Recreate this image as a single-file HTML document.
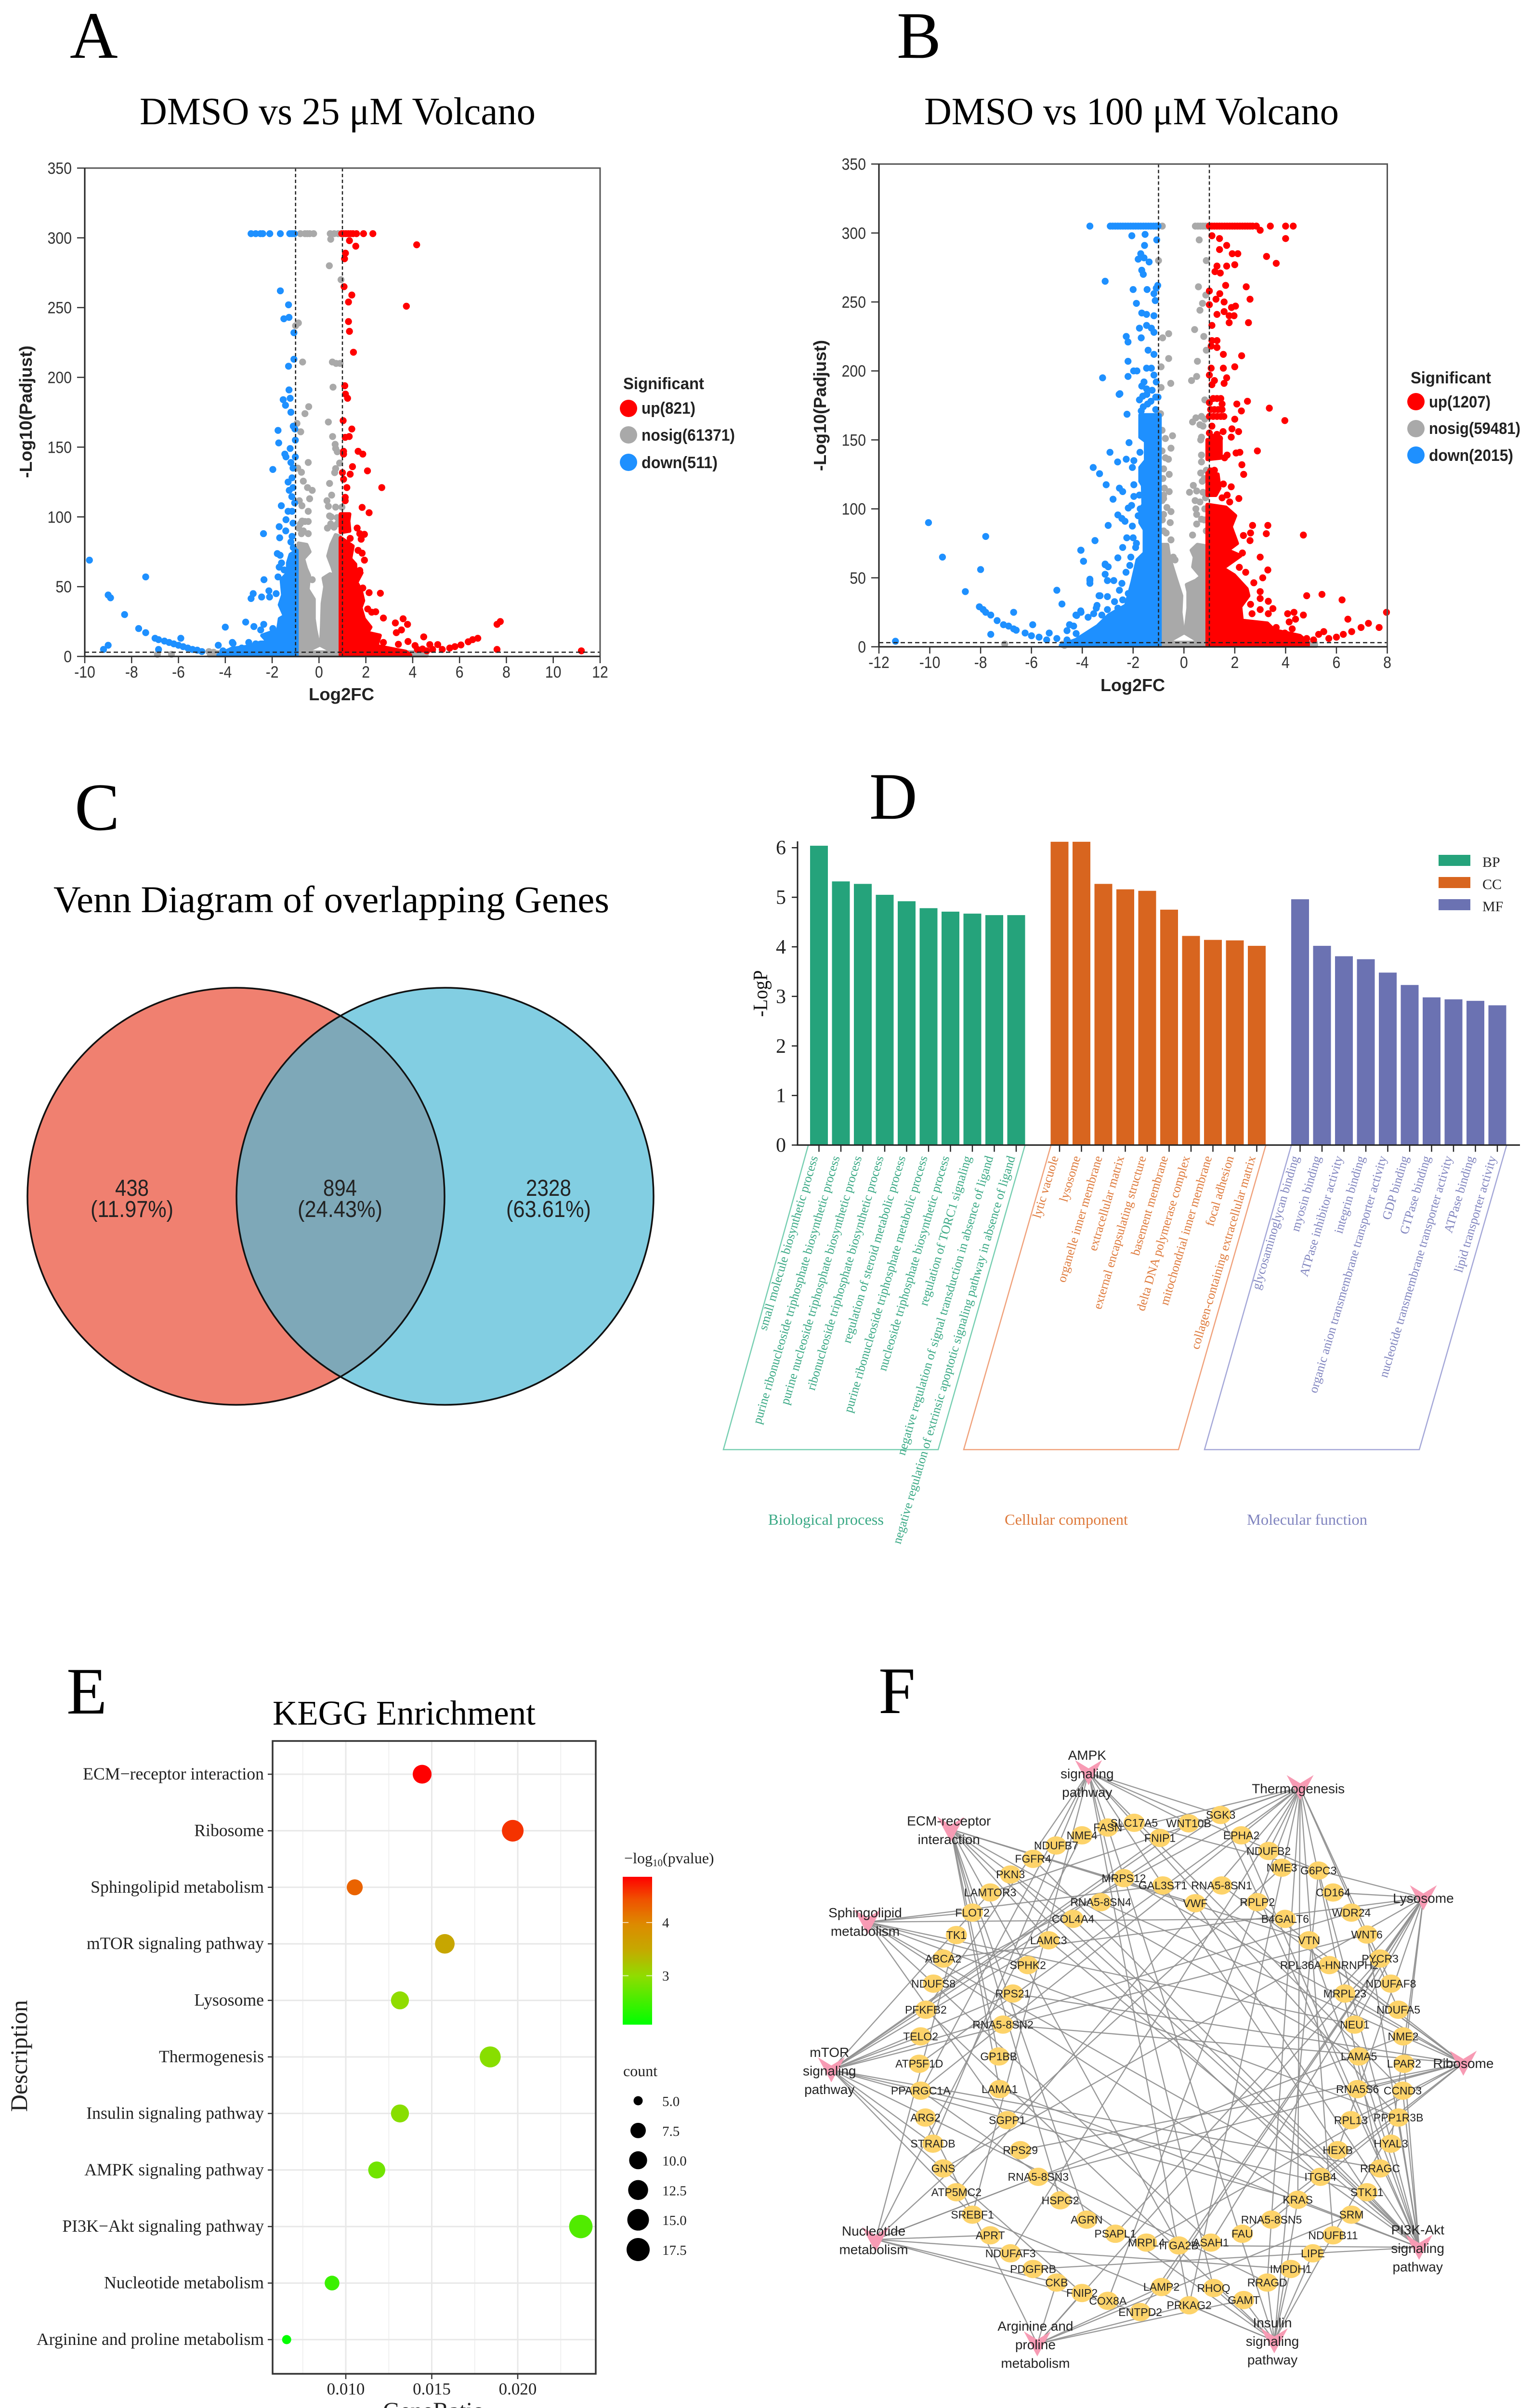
<!DOCTYPE html>
<html lang="en">
<head>
<meta charset="utf-8">
<title>Transcriptomic analysis figure</title>
<style>
html,body{margin:0;padding:0;background:#fff;width:3181px;height:5051px;overflow:hidden}
svg{display:block;position:absolute;left:0;top:0}
.serif{font-family:"Liberation Serif",serif}
.sans{font-family:"Liberation Sans",sans-serif}
</style>
</head>
<body>
<svg id="fig" xmlns="http://www.w3.org/2000/svg" width="3181" height="5051" viewBox="0 0 3181 5051">
<rect width="3181" height="5051" fill="#fff"/>
<g class="serif" fill="#000">
<text x="145" y="120" font-size="138">A</text>
<text x="1862" y="120" font-size="138">B</text>
<text x="155" y="1723" font-size="140">C</text>
<text x="1805" y="1700" font-size="138">D</text>
<text x="138" y="3558" font-size="138">E</text>
<text x="1824" y="3557" font-size="138">F</text>
<text x="290" y="258" font-size="80" textLength="822" lengthAdjust="spacingAndGlyphs">DMSO vs 25 μM Volcano</text>
<text x="1919" y="258" font-size="80" textLength="861" lengthAdjust="spacingAndGlyphs">DMSO vs 100 μM Volcano</text>
<text x="111" y="1894" font-size="78" textLength="1154" lengthAdjust="spacingAndGlyphs">Venn Diagram of overlapping Genes</text>
<text x="566" y="3581" font-size="72" textLength="546" lengthAdjust="spacingAndGlyphs">KEGG Enrichment</text>
</g>

<!-- Volcano A legend and axis titles -->
<g class="sans" fill="#222" font-size="34" font-weight="bold">
<text transform="translate(66,855) rotate(-90)" text-anchor="middle" font-size="36" textLength="275" lengthAdjust="spacingAndGlyphs">-Log10(Padjust)</text>
<text x="641" y="1454" font-size="36" textLength="136" lengthAdjust="spacingAndGlyphs">Log2FC</text>
<text x="1294" y="808" textLength="168" lengthAdjust="spacingAndGlyphs">Significant</text>
<circle cx="1305" cy="848" r="18" fill="#ff0000"/>
<text x="1332" y="859" textLength="112" lengthAdjust="spacingAndGlyphs">up(821)</text>
<circle cx="1305" cy="903" r="18" fill="#a9a9a9"/>
<text x="1332" y="915" textLength="194" lengthAdjust="spacingAndGlyphs">nosig(61371)</text>
<circle cx="1305" cy="960" r="18" fill="#1e90ff"/>
<text x="1332" y="972" textLength="158" lengthAdjust="spacingAndGlyphs">down(511)</text>
</g>
<!-- Volcano B legend and axis titles -->
<g class="sans" fill="#222" font-size="34" font-weight="bold">
<text transform="translate(1715,842) rotate(-90)" text-anchor="middle" font-size="36" textLength="272" lengthAdjust="spacingAndGlyphs">-Log10(Padjust)</text>
<text x="2285" y="1435" font-size="36" textLength="134" lengthAdjust="spacingAndGlyphs">Log2FC</text>
<text x="2929" y="796" textLength="167" lengthAdjust="spacingAndGlyphs">Significant</text>
<circle cx="2940" cy="834" r="18" fill="#ff0000"/>
<text x="2967" y="846" textLength="128" lengthAdjust="spacingAndGlyphs">up(1207)</text>
<circle cx="2940" cy="890" r="18" fill="#a9a9a9"/>
<text x="2967" y="901" textLength="190" lengthAdjust="spacingAndGlyphs">nosig(59481)</text>
<circle cx="2940" cy="945" r="18" fill="#1e90ff"/>
<text x="2967" y="957" textLength="175" lengthAdjust="spacingAndGlyphs">down(2015)</text>
</g>

<!-- Venn -->
<defs><clipPath id="vennClip"><circle cx="490" cy="2484" r="433"/></clipPath></defs>
<g>
<circle cx="490" cy="2484" r="433" fill="#f08070"/>
<circle cx="924" cy="2484" r="433" fill="#82cee2"/>
<circle cx="924" cy="2484" r="433" fill="#7ea8b8" clip-path="url(#vennClip)"/>
<circle cx="490" cy="2484" r="433" fill="none" stroke="#111" stroke-width="3.5"/>
<circle cx="924" cy="2484" r="433" fill="none" stroke="#111" stroke-width="3.5"/>
<g class="sans" fill="#222" font-size="48" text-anchor="middle">
<text x="274" y="2483" textLength="70" lengthAdjust="spacingAndGlyphs">438</text>
<text x="274" y="2527" textLength="172" lengthAdjust="spacingAndGlyphs">(11.97%)</text>
<text x="706" y="2483" textLength="70" lengthAdjust="spacingAndGlyphs">894</text>
<text x="706" y="2527" textLength="176" lengthAdjust="spacingAndGlyphs">(24.43%)</text>
<text x="1139" y="2483" textLength="94" lengthAdjust="spacingAndGlyphs">2328</text>
<text x="1139" y="2527" textLength="176" lengthAdjust="spacingAndGlyphs">(63.61%)</text>
</g>
</g>

<!-- Bar chart static parts -->
<g class="serif">
<text transform="translate(1593,2063) rotate(-90)" text-anchor="middle" font-size="42" fill="#111" textLength="97" lengthAdjust="spacingAndGlyphs">-LogP</text>
<rect x="2987" y="1775" width="66" height="23" fill="#25a37b"/>
<rect x="2987" y="1821" width="66" height="23" fill="#d8651f"/>
<rect x="2987" y="1867" width="66" height="23" fill="#6b72b2"/>
<text x="3078" y="1800" font-size="30" fill="#222">BP</text>
<text x="3078" y="1846" font-size="30" fill="#222">CC</text>
<text x="3078" y="1892" font-size="30" fill="#222">MF</text>
<polyline points="1678,2379 1502,3010 1948,3010 2128,2379" fill="none" stroke="#78cfb2" stroke-width="2.5"/>
<polyline points="2182,2379 2001,3010 2447,3010 2628,2379" fill="none" stroke="#f0a27c" stroke-width="2.5"/>
<polyline points="2681,2379 2501,3010 2947,3010 3128,2379" fill="none" stroke="#a5a8d8" stroke-width="2.5"/>
<text x="1595" y="3166" font-size="32" fill="#3aa985" textLength="240" lengthAdjust="spacingAndGlyphs">Biological process</text>
<text x="2086" y="3166" font-size="32" fill="#de7a3c" textLength="256" lengthAdjust="spacingAndGlyphs">Cellular component</text>
<text x="2589" y="3166" font-size="32" fill="#8185bf" textLength="250" lengthAdjust="spacingAndGlyphs">Molecular function</text>
</g>

<!-- KEGG static parts -->
<g class="serif" fill="#222">
<text transform="translate(56,4269) rotate(-90)" text-anchor="middle" font-size="50" textLength="232" lengthAdjust="spacingAndGlyphs">Description</text>
<text x="795" y="5022" font-size="50" textLength="211" lengthAdjust="spacingAndGlyphs">GeneRatio</text>
<text x="1296" y="3869" font-size="32">−log<tspan font-size="21" dy="6">10</tspan><tspan dy="-6">(pvalue)</tspan></text>
<text x="1294" y="4311" font-size="32">count</text>
<defs>
<linearGradient id="pvalGrad" x1="0" y1="1" x2="0" y2="0">
<stop offset="0" stop-color="#00ff00"/><stop offset="0.33" stop-color="#90dc00"/><stop offset="0.5" stop-color="#c4aa00"/><stop offset="0.68" stop-color="#dd8a00"/><stop offset="0.85" stop-color="#f05000"/><stop offset="1" stop-color="#ff0000"/>
</linearGradient>
</defs>
<rect x="1293" y="3897" width="61" height="307" fill="url(#pvalGrad)"/>
</g>

<g id="volcanoA"></g>
<g id="volcanoB"></g>
<g id="goChart" class="serif"></g>
<g id="keggChart" class="serif"></g>
<g id="network" class="sans"></g>
</svg>

<script>
/* ---------- Volcano data: [log2FC, -log10(padj)] ---------- */
const volcanoTicksXA=[-10,-8,-6,-4,-2,0,2,4,6,8,10,12];
const volcanoTicksXB=[-12,-10,-8,-6,-4,-2,0,2,4,6,8];
const volcanoTicksY=[0,50,100,150,200,250,300,350];
const thresholdsFC=[-1,1];
const thresholdP=3;

const grayCloudA=[
[[-4.7,3],[4.6,3],[4.6,.6],[-4.7,.6]],
[[-.87,81],[-.53,80],[-.4,75],[-.67,70],[-.55,63],[-.42,58],[-.48,48],[-.22,41],[-.22,27],[-.15,19],[-.01,8],[-.87,1]],
[[.08,8],[.12,21],[.15,38],[.26,50],[.19,56],[.47,59],[.68,58],[.57,64],[.39,72],[.52,80],[.71,87],[.88,86],[.88,1]]
];
const downCloudA=[[
[-.95,76],[-1.22,73],[-1.33,67],[-1.33,60],[-1.6,55],[-1.54,44],[-1.68,37],[-1.47,29],[-1.68,27],[-1.75,19],[-2.43,15],[-2.16,10],[-2.5,10],[-3.05,7],[-3.74,5.5],[-4.3,1],[-.95,1]
]];
const upCloudA=[
[[.92,102],[1.3,102],[1.26,97],[1.3,90],[.92,89]],
[[.92,85],[1.44,79],[1.34,70],[1.55,66],[1.56,60],[1.82,60],[1.6,53],[1.78,48],[1.89,40],[1.78,35],[1.92,27],[2.2,21],[2.06,17],[2.6,15],[2.46,7.5],[3.7,3.5],[3.9,1],[.92,1]]
];
const grayA=[[-.8,303],[-.6,303],[-.5,303],[-.4,303],[-.23,303],[.48,303],[.65,303],[.82,303],[.5,299],[.44,280],[.94,270],[-.88,239],[-1,237],[-.7,211],[.57,211],[.73,210],[.9,210],[.6,193],[-.44,179],[-.6,174],[-.94,167],[.4,168],[-.78,161],[.58,157.6],[.69,152],[.71,149],[.78,146.7],[-.46,139],[.88,138.6],[-.91,135],[.71,134.6],[-.75,132],[.67,131.7],[-.67,125.6],[.45,124],[-.49,121],[-.29,119],[.54,115.6],[-.4,113],[-.84,111.6],[.34,111.6],[-.73,108],[.4,107.6],[.71,107],[.98,107],[-.46,104],[.45,100.7],[.78,99.5],[.52,100],[-.8,95],[-.6,96.7],[-.46,96.7],[-.72,97],[-.87,92],[.36,92],[.64,92.6],[.78,95],[.5,95],[-.67,90],[-.46,88],[-.75,88],[-.29,55],[-6.9,1.5],[-6.3,1.5],[-4.5,3],[-4.7,3.5]];
const downA=[[-9.8,69],[-9,44],[-8.9,42],[-8.3,30],[-7.7,20],[-7.4,17],[-7.4,57],[-7,13],[-6.85,12],[-6.85,5],[-9.2,5],[-9,8],[-6.6,11],[-6.4,10],[-6.2,9],[-6,8],[-5.9,13],[-5.8,7],[-5.6,6],[-5.4,5],[-5.2,4.5],[-5,3.5],[-4,21],[-4.3,8],[-3.7,10],
[-2.9,303],[-2.7,303],[-2.5,303],[-2.4,303],[-2.1,303],[-1.65,303],[-1.25,303],[-1.15,303],[-1.05,303],[-1.75,162],[-1.65,262],[-1.3,252],[-1.5,242],[-1.28,243],[-1.07,232],[-1.07,213],[-1.3,208],[-1.28,191],[-1.53,184],[-1.23,185],[-1.43,180],[-1.2,175],[-1.1,165],[-1.03,163],
[-1.72,153],[-1.01,155],[-1.23,149],[-1.46,145],[-1.41,143],[-1.01,143],[-1.97,134],[-1.2,139],[-1.11,135],[-1.15,128],[-1.32,125],[-1.11,121],[-1.27,119],[-1.16,114.5],[-1.61,108],[-1.04,110],[-1.32,104],[-1.15,104],[-1.41,98],[-1.7,93],[-1.42,90],[-1.11,95.5],[-2.37,88],[-1.68,85],[-1.15,86],[-1.78,73.7],[-1.66,72.5],[-1.6,67],[-1.7,64],[-1.49,62],[-1.75,57],[-2.35,55],[-2.14,47],[-2.45,42.6],[-2.11,42.6],[-1.83,45],[-2.81,45],[-2.9,41.5],[-3.13,24.6],[-2.78,21.4],[-2.36,23],[-2.49,19],[-1.97,20],[-3,10],[-3.67,9.3],[-1.2,82],[-1.1,78],[-3.3,6],[-2.7,9],[-4.1,4]];
const upA=[[.97,303],[1.05,303],[1.15,303],[1.25,303],[1.35,303],[1.45,303],[1.6,303],[1.9,303],[2.3,303],[1.3,298],[1.57,294],[4.17,295],[1.13,289],[1.09,285],[1.07,265],[1.4,259],[1.26,254],[3.73,251],[1.26,240],[1.3,233],[1.47,218],[1.1,194],[1.13,188],[1.22,185],[1.03,169],[1.4,163],
[1.12,157],[1.29,157.6],[1.05,147],[1.67,147],[1.87,145],[1.05,145],[1.43,136],[2.07,133],[1.33,130.6],[1,131.7],[1.05,127],[2.68,121],[1.19,121],[1.12,114],[1.12,111.6],[1.84,106.8],[2.14,103],[1.63,92],[1.94,87.5],[1.74,88],[1.8,84],[1.33,84.6],[1.67,76],[1.84,74],[1.94,69],[1.74,61.6],[1.87,49],[2.14,45.7],[2.62,45.3],[2.08,34],[2.42,32],[2.25,31.7],[2.75,27.5],[3.26,24],[3.59,27],[3.78,23],[3.52,19],[3.3,17],[4.47,14],[3.8,10.7],[2.75,10],[3.39,8.7],[4.1,7.8],[4.73,8.5],[5.07,8.5],[6.06,8.2],[6.37,10.5],[4.42,5.3],[4.85,5],[5.26,5],[5.58,6],[5.8,7],[6.56,12],[6.78,13],[7.6,23],[7.74,25],[7.6,5],[11.2,4],[4.6,4],[4.2,5]];

const grayCloudB=[
[[-4.8,3],[5.2,3],[5.2,.6],[-4.8,.6]],
[[-.9,74],[-.65,74],[-.58,65],[-.31,49],[-.1,37],[-.13,25],[-.03,10],[-.9,1]],
[[.05,10],[.17,28],[.17,40],[.11,45],[.47,48],[.68,51],[.36,58],[.42,65],[.3,70],[.53,74],[.86,73],[.86,1]]
];
const downCloudB=[[
[-.95,168],[-1.72,168],[-1.72,152],[-1.5,149],[-1.5,135],[-1.72,130],[-1.72,120],[-1.62,117],[-1.6,103],[-1.72,100],[-1.72,90],[-1.55,85],[-1.55,68],[-1.83,63],[-2.03,47],[-2.28,30],[-2.95,23],[-3.4,15],[-4.25,5],[-4.85,1],[-.95,1]
]];
const upCloudB=[
[[.92,150],[1.45,150],[1.45,137],[.92,136]],
[[.92,126],[1.33,125],[1.4,115],[1.25,110],[.92,110]],
[[.92,103],[1.65,101],[2.02,95],[1.85,87],[2.09,75],[1.72,70],[2.22,66],[1.53,57],[1.97,52],[2.47,42],[2.54,37],[2.22,29],[2.28,19],[3.28,17],[3.55,12],[4.56,8],[4.88,3],[4.88,1],[.92,1]]
];
const grayB=[[-1,305],[-.85,305],[.45,305],[.55,305],[.65,305],[.75,305],[.85,305],[.95,305],[.6,295],[-1,280],[.88,280],[.57,261],[.86,255],[.73,249],[.63,244],[.42,230],[-.6,227],[-.84,224],[.78,225],[.88,215],[-.6,209],[.53,207],[-.9,203],[-.52,191],[-.9,188],[.5,196],[.3,193],[.82,179],
[-.8,129],[-.58,125],[-.83,122],[-.77,115],[-.58,112.5],[-.8,107.5],[-.86,106],[-.67,101],[-.51,98],[-.54,90],[-.8,84],[-.7,82.5],[-.51,77.5],[-.73,151],[-.45,153],[-.51,144],[-.73,137],[-.61,136],[-.86,142],[-.86,157],[-.92,169],[-.42,65],[-.35,63],[-.8,96],[-.85,92],[-.8,110],
[.69,167],[.47,166],[.34,163],[.63,161],[.69,152],[.66,150],[.69,139],[.69,134],[.66,126],[.88,128],[.72,120],[.37,117],[.5,113],[.22,112],[.85,108],[.44,106],[.63,105],[.47,100],[.82,100],[.5,96],[.69,92.5],[.5,89],[.34,81],[.88,84],[.82,165],[.75,160],[.8,122],[.75,112],[.8,92],
[-7.05,2],[-4.7,1],[-4.5,3]];
const downB=[[-11.35,4],[-10.05,90],[-9.5,65],[-7.8,80],[-8,56],[-8.6,40],[-8.05,29],[-7.9,27],[-7.8,25],[-7.6,23],[-7.6,9],[-7.35,19],[-7.1,16],[-6.9,15],[-6.7,13],[-6.6,12],[-6.7,25],[-6.25,10],[-6,8],[-5.95,16],[-5.7,7],[-5.4,5],[-5.3,10],[-5,6],[-5,41],[-4.8,31],[-4.6,5],[-4.5,16],[-4.25,23],[-4.05,25],[-4.05,70],[-3.95,62],[-3.7,49],[-3.7,46],[-3.5,77],[-3.45,28],[-3.3,37],[-3.1,60],
[-3.1,265],[-3.2,195],[-2.55,183],[-2.2,196],[-2.2,207],[-2.27,225],[-2.2,221],[-2,259],[-1.87,249],[-1.68,224],[-1.75,231],[-2.05,298],[-1.53,299],[-1.07,295],[-1.55,291],[-1.7,285],[-1.8,281],[-1.57,282],[-1.37,279],[-1.66,273],[-1.6,270],[-1.45,259],[-1.09,260],[-1.03,262],[-1.18,256],[-1.13,251],[-1.66,242],[-1.47,241],[-1.18,240],[-1.47,233],[-1.28,231],[-1.18,228],[-1.41,215],[-1.18,212],[-1.85,200],[-1.98,200],[-1.47,202],[-1.28,202],[-1.18,197],[-1.57,192],[-1.66,189],[-1.09,192],[-1.47,187],
[-2.52,183.5],[-2.24,168.6],[-2.16,148],[-2.91,141],[-2.61,134],[-2.27,136],[-1.73,141],[-1.97,135],[-2.03,130],[-3.57,130],[-3.32,125.5],[-3.06,117.5],[-2.54,115],[-2.41,112.5],[-1.97,117.5],[-1.97,109],[-2.79,107],[-2.19,100.6],[-2.06,102.5],[-1.72,100],[-2.6,95.6],[-2.44,93],[-2.32,91],[-2.98,88],[-2.03,87.5],[-3.5,77],[-2.25,79],[-2,79],[-2.41,72],[-4.06,70],[-3.95,62],[-2.6,64.5],[-1.87,75],[-2.09,65],[-3.1,59.5],[-2.98,58],[-3.1,52.6],[-3.7,48],[-3.01,48],[-2.76,48],[-2.44,46],[-2.28,54],[-2.54,41],[-2.13,59],[-2.19,38.6],[-3.34,37],[-3.01,36.4],[-2.41,34],[-2.73,32.7],[-3.42,30],[-2.6,28],[-3.01,27],[-4.06,26],[-4.22,22.7],[-3.77,21.4],[-3.55,24],[-3.23,23],[-2.89,21.4],[-2.28,26],[-4.5,16],[-4.34,15],[-4.6,11.7],[-4.24,9.6],
[-1.25,186],[-1.46,183],[-1.62,181.7],[-1.75,179],[-1.02,181],[-1.11,181],[-1.43,176],[-1.68,171],[-1.11,172],[-1.3,178],[-1.6,174],[-1.75,110],[-1.8,95],[-1.9,72],
[-3.7,305],[-2.9,305],[-2.8,305],[-2.7,305],[-2.6,305],[-2.5,305],[-2.4,305],[-2.3,305],[-2.2,305],[-2.1,305],[-2,305],[-1.9,305],[-1.8,305],[-1.7,305],[-1.6,305],[-1.5,305],[-1.4,305],[-1.3,305],[-1.2,305],[-1.1,305],[-1.02,305]];
const upB=[[1,305],[1.1,305],[1.2,305],[1.3,305],[1.4,305],[1.5,305],[1.6,305],[1.7,305],[1.8,305],[1.9,305],[2,305],[2.1,305],[2.2,305],[2.3,305],[2.4,305],[2.5,305],[2.6,305],[2.7,305],[2.85,305],[3,302],[3.4,305],[4,305],[4.3,305],[1.1,298],[1.4,296],[1.68,291],[1.4,288],[1.9,285],[2.12,285],[1.3,276],[1.68,276],[2,277],[1.22,272],[1.43,271],[3.25,283],[3.63,278],[4,296],[2.45,261],[1.64,262],[1.41,256],[1,258],[1.26,252],[2.6,252],[1.58,250],[2.03,247],[1.87,246],[1,248],[1.58,243],[1.78,240],[1.97,240],[1.3,241],[2.54,235],[1.78,235],[1.1,233],[1.1,222],[1.3,222],[1.07,218],[1.3,217],[1.55,212],[2.27,211],[2,203],[1.07,202],[1.55,202],[1.68,195],[1,197],[1.2,193],[1.58,191],[1.1,190],
[1,177],[1.15,180],[1.3,180],[1.45,180],[1.5,176],[1.05,172],[1.2,172],[1.35,172],[1.5,172],[1,167],[1.15,167],[1.3,167],[1.45,167],[1.57,167],[2.08,176],[2.26,171],[2.5,178],[3.36,173],[3.97,164],[2,165],[1.89,158],[2.15,156],[1.86,152],[1.54,156],[1.3,154],[1.1,160],[1,155],[1.6,137],[1.7,139],[2.05,140.5],[2.2,141],[2.89,142],[2.28,132],[2.35,125],[2.16,107.5],[1.8,105],[2.7,88],[3.3,88],[2.62,82.5],[2.34,80.7],[3.24,82],[2.6,77],[3,65],[3.3,55.7],[3.1,50],[2.75,46.4],[3,40],[3.32,33],[2.62,30.8],[3,27],[3.5,27.7],[3.32,24],[2.68,24],[4.08,24],[4.33,25],[4.14,18],[4.39,20],[3.63,14],[3,35],[2.43,54],[2.18,57.6],[2.3,68],[1.86,116],[1.7,110],[1.5,108],[1.2,118],[1.55,118],[1.1,152],[1.25,152],[1.4,151],[1.05,127.5],[1.2,128],
[4.7,81],[4.83,37],[5.43,38],[6.22,34],[6.45,20],[4.7,23],[4.26,13],[3.97,10],[7.97,25],[7.26,17],[6.97,14],[7.68,14],[6.6,11],[6.27,9],[6,7],[5.7,6],[5.5,11],[5.3,9],[5.1,5],[4.83,6],[4.64,4]];

/* ---------- GO bar data ---------- */
const goGroups=['BP','CC','MF'];
const goColors=['#25a37b','#d8651f','#6b72b2'];
const goTextColors=['#3aa985','#de7a3c','#8185bf'];
const goTicks=[0,1,2,3,4,5,6];
const bpValues=[6.04,5.32,5.27,5.05,4.92,4.78,4.71,4.67,4.64,4.64];
const ccValues=[6.12,6.12,5.27,5.16,5.13,4.75,4.22,4.14,4.13,4.02];
const mfValues=[4.96,4.02,3.81,3.75,3.48,3.23,2.98,2.94,2.91,2.82];
const bpTerms=['small molecule biosynthetic process','purine ribonucleoside triphosphate biosynthetic process','purine nucleoside triphosphate biosynthetic process','ribonucleoside triphosphate biosynthetic process','regulation of steroid metabolic process','purine ribonucleoside triphosphate metabolic process','nucleoside triphosphate biosynthetic process','regulation of TORC1 signaling','negative regulation of signal transduction in absence of ligand','negative regulation of extrinsic apoptotic signaling pathway in absence of ligand'];
const ccTerms=['lytic vacuole','lysosome','organelle inner membrane','extracellular matrix','external encapsulating structure','basement membrane','delta DNA polymerase complex','mitochondrial inner membrane','focal adhesion','collagen-containing extracellular matrix'];
const mfTerms=['glycosaminoglycan binding','myosin binding','ATPase inhibitor activity','integrin binding','organic anion transmembrane transporter activity','GDP binding','GTPase binding','nucleotide transmembrane transporter activity','ATPase binding','lipid transporter activity'];

/* ---------- KEGG dot plot data ---------- */
const keggTerms=['ECM−receptor interaction','Ribosome','Sphingolipid metabolism','mTOR signaling pathway','Lysosome','Thermogenesis','Insulin signaling pathway','AMPK signaling pathway','PI3K−Akt signaling pathway','Nucleotide metabolism','Arginine and proline metabolism'];
const keggRatio=[.01444,.01971,.01052,.01576,.01315,.0184,.01315,.0118,.02367,.0092,.00656];
const keggCount=[11,15,8,12,10,14,10,9,18,7,5];
const keggLogP=[4.86,4.6,4.3,3.55,3.0,2.95,2.95,2.8,2.6,2.45,2.1];
const keggTicks=[.01,.015,.02];
const keggMinorTicks=[.0075,.0125,.0175,.0225];
const keggColorTicks=[3,4];
const keggSizeLegend=[5,7.5,10,12.5,15,17.5];

/* ---------- Network (layout units) ---------- */
const pathways=[
['AMPK',625,518,['AMPK','signaling','pathway'],622,450],
['Thermogenesis',1075,575,['Thermogenesis'],1071,578],
['ECM',332,735,['ECM-receptor','interaction'],328,702],
['Lysosome',1337,997,['Lysosome'],1337,998],
['Sphingolipid',155,1090,['Sphingolipid','metabolism'],150,1053],
['mTOR',78,1656,['mTOR','signaling','pathway'],74,1588],
['Ribosome',1422,1631,['Ribosome'],1422,1631],
['Nucleotide',172,2306,['Nucleotide','metabolism'],168,2273],
['PI3K',1328,2336,['PI3K-Akt','signaling','pathway'],1325,2268],
['Arginine',516,2706,['Arginine and','proline','metabolism'],512,2637],
['Insulin',1020,2694,['Insulin','signaling','pathway'],1016,2624]
];
const genes=[['SGK3',906,680],['WNT10B',838,712],['SLC17A5',722,710],['FASN',666,728],['NME4',611,758],['FNIP1',777,768],['EPHA2',950,758],['NDUFB7',556,797],['NDUFB2',1008,818],['FGFR4',507,848],['NME3',1036,882],['G6PC3',1114,893],['PKN3',459,908],['MRPS12',700,922],['GAL3ST1',783,950],['RNA5-8SN1',908,950],['CD164',1145,977],['LAMTOR3',416,977],['RNA5-8SN4',651,1014],['VWF',852,1018],['RPLP2',984,1014],['FLOT2',378,1054],['WDR24',1184,1054],['COL4A4',592,1078],['B4GALT6',1043,1078],['TK1',344,1140],['WNT6',1217,1138],['LAMC3',540,1160],['VTN',1094,1160],['ABCA2',316,1230],['PYCR3',1245,1230],['SPHK2',496,1255],['RPL36A-HNRNPH2',1137,1255],['NDUFS8',295,1326],['NDUFAF8',1268,1326],['RPS21',464,1364],['MRPL23',1170,1364],['PFKFB2',279,1426],['NDUFA5',1284,1426],['RNA5-8SN2',443,1483],['NEU1',1191,1483],['TELO2',268,1528],['NME2',1294,1528],['LAMA5',1200,1605],['ATP5F1D',265,1633],['LPAR2',1296,1633],['GP1BB',434,1605],['PPARGC1A',268,1736],['LAMA1',436,1730],['RNA5S6',1197,1730],['CCND3',1293,1736],['ARG2',278,1839],['SGPP1',452,1849],['RPL13',1183,1849],['PPP1R3B',1284,1839],['STRADB',294,1939],['HYAL3',1268,1939],['RPS29',480,1964],['HEXB',1155,1964],['GNS',316,2034],['RRAGC',1245,2034],['RNA5-8SN3',518,2066],['ITGB4',1118,2066],['ATP5MC2',344,2125],['STK11',1217,2125],['HSPG2',565,2156],['KRAS',1070,2154],['SREBF1',378,2211],['SRM',1184,2211],['AGRN',621,2230],['RNA5-8SN5',1014,2230],['APRT',416,2290],['PSAPL1',682,2284],['FAU',952,2284],['NDUFB11',1145,2290],['MRPL4',748,2318],['ITGA2B',817,2329],['ASAH1',885,2318],['NDUFAF3',459,2359],['LIPE',1102,2359],['PDGFRB',507,2419],['IMPDH1',1055,2419],['CKB',557,2471],['RRAGD',1005,2471],['FNIP2',611,2511],['LAMP2',780,2488],['RHOQ',891,2492],['COX8A',666,2541],['GAMT',955,2538],['ENTPD2',735,2584],['PRKAG2',839,2558]];
const edgeAMPK=['FASN','PPARGC1A','PPP1R3B','SREBF1','STRADB','STK11','PRKAG2','G6PC3','CCND3','PFKFB2','RHOQ','WNT10B','SGK3'];
const edgeThermogenesis=['NDUFB7','NDUFB2','NDUFS8','NDUFAF8','NDUFA5','NDUFAF3','NDUFB11','ATP5F1D','ATP5MC2','COX8A','PPARGC1A','KRAS','PRKAG2','LAMTOR3','RRAGC','RRAGD','SGK3'];
const edgeECM=['COL4A4','LAMC3','LAMA1','LAMA5','VWF','ITGB4','ITGA2B','VTN','AGRN','HSPG2','GP1BB','FLOT2'];
const edgeLysosome=['LAMP2','HEXB','NEU1','PSAPL1','ENTPD2','ABCA2','GNS','CD164','ASAH1','HYAL3','SLC17A5','WDR24','PYCR3','LPAR2'];
const edgeSphingolipid=['SPHK2','SGPP1','NEU1','GAL3ST1','ASAH1','B4GALT6','KRAS','FLOT2','ITGB4','PPP1R3B'];
const edgeMTOR=['WNT10B','WNT6','FNIP1','FNIP2','RRAGC','RRAGD','LAMTOR3','SGK3','STK11','STRADB','KRAS','TELO2','WDR24','RPS21','LAMC3','SREBF1'];
const edgeRibosome=['RPLP2','RPL13','RPS21','RPS29','RPL36A-HNRNPH2','RNA5S6','RNA5-8SN1','RNA5-8SN2','RNA5-8SN3','RNA5-8SN4','RNA5-8SN5','FAU','MRPL4','MRPS12','MRPL23'];
const edgeNucleotide=['NME2','NME3','NME4','APRT','IMPDH1','ENTPD2','TK1','CKB','RNA5-8SN3'];
const edgePI3K=['COL4A4','LAMC3','LAMA1','LAMA5','VWF','ITGB4','ITGA2B','VTN','KRAS','FGFR4','EPHA2','PKN3','CCND3','G6PC3','STK11','LPAR2','SGK3','PDGFRB','PPP1R3B','WNT6'];
const edgeArginine=['ARG2','CKB','GAMT','PYCR3','SRM','PRKAG2','FNIP2','LAMP2'];
const edgeInsulin=['PPARGC1A','FASN','G6PC3','LIPE','PPP1R3B','PRKAG2','KRAS','SREBF1','RHOQ','PFKFB2','RRAGD','GAMT','IMPDH1'];

const NS='http://www.w3.org/2000/svg';
function el(tag,attrs,parent){
  const e=document.createElementNS(NS,tag);
  for(const k in attrs)e.setAttribute(k,attrs[k]);
  parent.appendChild(e);
  return e;
}

/* ---------- Volcano renderer ---------- */
function drawVolcano(rootId,prefix,box,ticksX,clouds,pts){
  const root=document.getElementById(rootId);
  const xS=v=>box.x0+(v-box.xMin)*(box.x1-box.x0)/(box.xMax-box.xMin);
  const yS=v=>box.yB-v*(box.yB-box.yT)/350;
  const poly=p=>p.map(q=>xS(q[0]).toFixed(1)+','+yS(q[1]).toFixed(1)).join(' ');
  clouds.gray.forEach(c=>{
    const p=el('polygon',{points:poly(c),fill:'#a9a9a9',stroke:'#a9a9a9','stroke-width':8,'stroke-linejoin':'round'},root);
    
    
  });
  pts.gray.forEach(d=>{
    const c=el('circle',{cx:xS(d[0]).toFixed(1),cy:yS(d[1]).toFixed(1),r:7.2,fill:'#a9a9a9'},root);
    
    
  });
  clouds.down.forEach(c=>{
    const p=el('polygon',{points:poly(c),fill:'#1e90ff',stroke:'#1e90ff','stroke-width':8,'stroke-linejoin':'round'},root);
    
    
  });
  pts.down.forEach(d=>{
    const c=el('circle',{cx:xS(d[0]).toFixed(1),cy:yS(d[1]).toFixed(1),r:7.2,fill:'#1e90ff'},root);
    
    
  });
  clouds.up.forEach(c=>{
    const p=el('polygon',{points:poly(c),fill:'#ff0000',stroke:'#ff0000','stroke-width':8,'stroke-linejoin':'round'},root);
    
    
  });
  pts.up.forEach(d=>{
    const c=el('circle',{cx:xS(d[0]).toFixed(1),cy:yS(d[1]).toFixed(1),r:7.2,fill:'#ff0000'},root);
    
    
  });
  /* threshold lines */
  thresholdsFC.forEach(v=>{
    const l=el('line',{x1:xS(v),x2:xS(v),y1:box.yT,y2:box.yB,stroke:'#222','stroke-width':2.5,'stroke-dasharray':'7 5'},root);
    
    
  });
  const h=el('line',{x1:box.x0,x2:box.x1,y1:yS(thresholdP),y2:yS(thresholdP),stroke:'#222','stroke-width':2.5,'stroke-dasharray':'9 6'},root);
  
  
  /* frame */
  const fr=el('path',{d:`M${box.x0} ${box.yT}H${box.x1}V${box.yB}`,fill:'none',stroke:'#555','stroke-width':3},root);
  
  
  const ax=el('path',{d:`M${box.x0} ${box.yT}V${box.yB}H${box.x1}`,fill:'none',stroke:'#222','stroke-width':3},root);
  
  
  const lenOf=s=>[...String(s)].reduce((a,ch)=>a+(ch==='-'?10:16.8),0);
  ticksX.forEach(v=>{
    const t=el('line',{x1:xS(v),x2:xS(v),y1:box.yB,y2:box.yB+14,stroke:'#333','stroke-width':2.5},root);
    
    
    const tx=el('text',{x:xS(v)-lenOf(v)/2,y:box.yB+44,'font-size':34,fill:'#333','font-family':'"Liberation Sans",sans-serif',textLength:lenOf(v),lengthAdjust:'spacingAndGlyphs'},root);
    tx.textContent=v;
    
    
  });
  volcanoTicksY.forEach(v=>{
    const t=el('line',{x1:box.x0-16,x2:box.x0,y1:yS(v),y2:yS(v),stroke:'#333','stroke-width':2.5},root);
    
    
    const w=lenOf(v);
    const tx=el('text',{x:box.x0-27-w,y:yS(v)+12,'font-size':34,fill:'#333','font-family':'"Liberation Sans",sans-serif',textLength:w,lengthAdjust:'spacingAndGlyphs'},root);
    tx.textContent=v;
    
    
  });
}
drawVolcano('volcanoA','volcano-a',{x0:176,x1:1246,xMin:-10,xMax:12,yT:349,yB:1363},volcanoTicksXA,
  {gray:grayCloudA,down:downCloudA,up:upCloudA},{gray:grayA,down:downA,up:upA});
drawVolcano('volcanoB','volcano-b',{x0:1825,x1:2880.5,xMin:-12,xMax:8,yT:340.6,yB:1343},volcanoTicksXB,
  {gray:grayCloudB,down:downCloudB,up:upCloudB},{gray:grayB,down:downB,up:upB});

/* ---------- GO bars ---------- */
(function(){
  const root=document.getElementById('goChart');
  const yD=v=>2377.6-v*102.9;
  const xD=(g,i)=>1682+g*499.5+i*45.5;
  const barW=37;
  const vals=[bpValues,ccValues,mfValues];
  const terms=[bpTerms,ccTerms,mfTerms];
  vals.forEach((arr,g)=>{
    arr.forEach((v,i)=>{
      const r=el('rect',{x:xD(g,i),y:yD(v),width:barW,height:yD(0)-yD(v),fill:goColors[g]},root);
      
      
      const cx=xD(g,i)+barW/2;
      const t=el('line',{x1:cx,x2:cx,y1:yD(0),y2:yD(0)+14,stroke:'#222','stroke-width':2.5},root);
      
      
      const tx=el('text',{transform:`translate(${cx-2},2403) rotate(-73.5)`,'text-anchor':'end','font-size':26,fill:goTextColors[g]},root);
      tx.textContent=terms[g][i];
      
      
    });
  });
  const ax=el('path',{d:`M1656 1747V${yD(0)}H3156`,fill:'none',stroke:'#222','stroke-width':3},root);
  
  
  goTicks.forEach(v=>{
    const t=el('line',{x1:1644,x2:1656,y1:yD(v),y2:yD(v),stroke:'#222','stroke-width':2.5},root);
    
    
    const tx=el('text',{x:1632,y:yD(v)+14,'text-anchor':'end','font-size':42,fill:'#222'},root);
    tx.textContent=v;
    
    
  });
})();

/* ---------- KEGG dots ---------- */
(function(){
  const root=document.getElementById('keggChart');
  const xK=v=>718+(v-.01)*35700;
  const yK=i=>3684+i*117.4;
  const rK=c=>9.5+14.5*Math.sqrt((c-5)/12.5);
  const stops=[[2.08,[0,255,0]],[3,[144,220,0]],[3.48,[196,170,0]],[4,[221,138,0]],[4.45,[240,80,0]],[4.86,[255,0,0]]];
  const colK=v=>{
    for(let i=1;i<stops.length;i++){
      if(v<=stops[i][0]){
        const a=stops[i-1],b=stops[i],t=(v-a[0])/(b[0]-a[0]);
        return 'rgb('+a[1].map((c,j)=>Math.round(c+(b[1][j]-c)*t)).join(',')+')';
      }
    }
    return 'rgb(255,0,0)';
  };
  const yC=v=>3897+(4.86-v)*(307/2.78);
  keggMinorTicks.forEach(v=>{
    const l=el('line',{x1:xK(v),x2:xK(v),y1:3615,y2:4929,stroke:'#f0f0f0','stroke-width':2},root);
    
    
  });
  keggTicks.forEach(v=>{
    const l=el('line',{x1:xK(v),x2:xK(v),y1:3615,y2:4929,stroke:'#e8e8e8','stroke-width':3},root);
    
    
    const t=el('line',{x1:xK(v),x2:xK(v),y1:4929,y2:4940,stroke:'#333','stroke-width':2.5},root);
    
    
    const tx=el('text',{x:xK(v),y:4972,'text-anchor':'middle','font-size':35,fill:'#222'},root);
    tx.textContent=v.toFixed(3);
    
    
  });
  keggTerms.forEach((term,i)=>{
    const l=el('line',{x1:566,x2:1237,y1:yK(i),y2:yK(i),stroke:'#e8e8e8','stroke-width':3},root);
    
    
    const t=el('line',{x1:556,x2:566,y1:yK(i),y2:yK(i),stroke:'#333','stroke-width':2.5},root);
    
    
    const tx=el('text',{x:548,y:yK(i)+11,'text-anchor':'end','font-size':35.7,fill:'#222'},root);
    tx.textContent=term;
    
    
  });
  keggRatio.forEach((v,i)=>{
    const c=el('circle',{cx:xK(v),cy:yK(i),r:rK(keggCount[i]),fill:colK(keggLogP[i])},root);
    
    
  });
  const b=el('rect',{x:566,y:3615,width:671,height:1314,fill:'none',stroke:'#333','stroke-width':3.5},root);
  
  
  keggColorTicks.forEach(v=>{
    const a=el('path',{d:`M1293 ${yC(v)}h12M1342 ${yC(v)}h12`,stroke:'#fff','stroke-width':2,opacity:.7},root);
    
    
    const tx=el('text',{x:1375,y:yC(v)+10,'font-size':29,fill:'#222'},root);
    tx.textContent=v;
    
    
  });
  keggSizeLegend.forEach((v,i)=>{
    const cy=4362+i*61.8;
    const c=el('circle',{cx:1325,cy:cy,r:rK(v),fill:'#000'},root);
    
    
    const tx=el('text',{x:1375,y:cy+11,'font-size':29,fill:'#222'},root);
    tx.textContent=v.toFixed(1);
    
    
  });
})();

/* ---------- Network ---------- */
(function(){
  const root=document.getElementById('network');
  const X=u=>1650+u/1.0242;
  const Y=v=>3400+v/1.8447;
  const geneMap={};
  genes.forEach(g=>{geneMap[g[0]]=g;});
  const edges={AMPK:edgeAMPK,Thermogenesis:edgeThermogenesis,ECM:edgeECM,Lysosome:edgeLysosome,Sphingolipid:edgeSphingolipid,mTOR:edgeMTOR,Ribosome:edgeRibosome,Nucleotide:edgeNucleotide,PI3K:edgePI3K,Arginine:edgeArginine,Insulin:edgeInsulin};
  pathways.forEach(p=>{
    edges[p[0]].forEach(name=>{
      const g=geneMap[name];
      const l=el('line',{x1:X(p[1]),y1:Y(p[2]),x2:X(g[1]),y2:Y(g[2]),stroke:'#8e8e8e','stroke-width':2.4,'stroke-opacity':.9},root);
      
      
    });
  });
  pathways.forEach(p=>{
    const cx=X(p[1]),cy=Y(p[2]);
    const s=el('polygon',{points:`${cx-28},${cy-26} ${cx},${cy-9} ${cx+28},${cy-26} ${cx},${cy+26}`,fill:'#f79bb4'},root);
    
    
  });
  genes.forEach(g=>{
    const e=el('ellipse',{cx:X(g[1]),cy:Y(g[2]),rx:22,ry:19,fill:'#fdd36a'},root);
    
    
  });
  genes.forEach(g=>{
    const t=el('text',{x:X(g[1]),y:Y(g[2])+8,'text-anchor':'middle','font-size':23,fill:'#222'},root);
    t.textContent=g[0];
    
    
  });
  pathways.forEach(p=>{
    p[3].forEach((line,i)=>{
      const t=el('text',{x:X(p[4]),y:Y(p[5]+i*71)+10,'text-anchor':'middle','font-size':28,fill:'#222'},root);
      t.textContent=line;
      
      
    });
  });
})();
</script>
</body>
</html>
